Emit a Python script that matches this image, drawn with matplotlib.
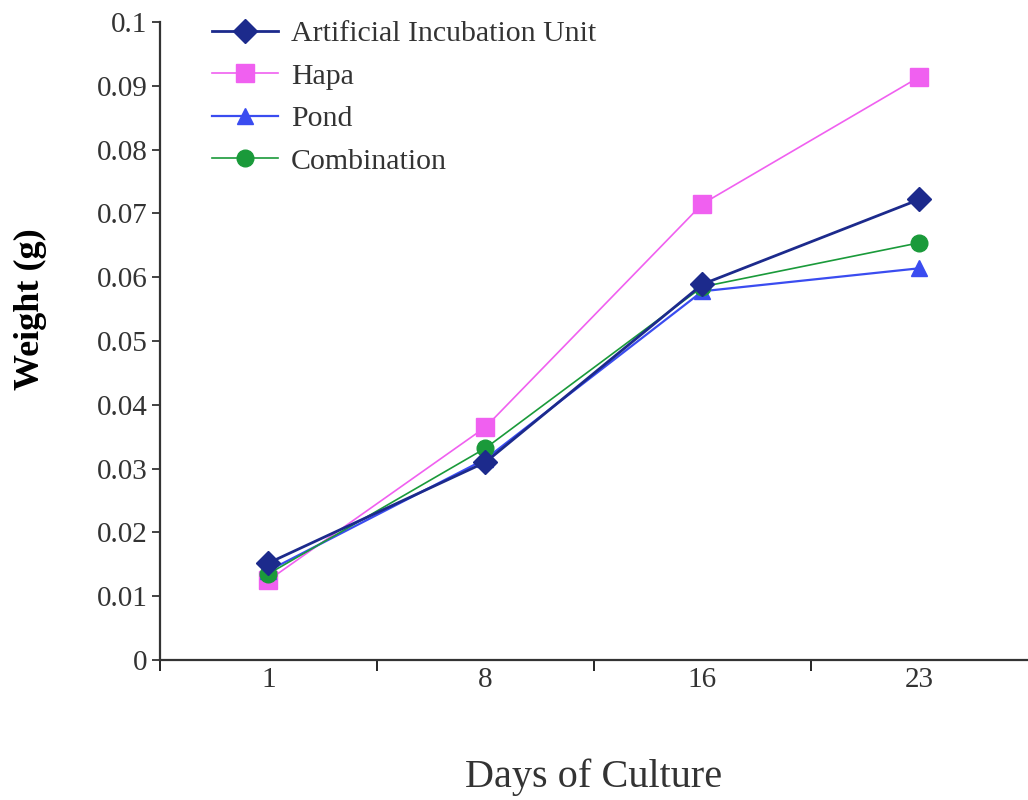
import matplotlib.pyplot as plt

plt.rcParams['font.family'] = ['Liberation Serif', 'DejaVu Serif']

# データ
days = ['1', '8', '16', '23']
aiu = [0.0152, 0.0310, 0.0589, 0.0722]
hapa = [0.0125, 0.0365, 0.0715, 0.0914]
pond = [0.0140, 0.0315, 0.0578, 0.0614]
combination = [0.0135, 0.0332, 0.0585, 0.0654]

x = list(range(1, len(days) + 1))

fig = plt.figure(figsize=(10.28, 8), dpi=100)
ax = fig.add_axes([0.1556, 0.175, 0.8444, 0.7975])

ax.plot(x, aiu, color='#1c2a8c', lw=2.0, marker='D', ms=12, label='Artificial Incubation Unit', zorder=5)
ax.plot(x, hapa, color='#f060f0', lw=1.2, marker='s', ms=13, label='Hapa', zorder=2)
ax.plot(x, pond, color='#3a4cf0', lw=1.6, marker='^', ms=12, label='Pond', zorder=3)
ax.plot(x, combination, color='#1a9a3a', lw=1.2, marker='o', ms=12, label='Combination', zorder=4)

# 軸の設定
ax.set_xlim(0.5, 4.5)
ax.set_ylim(0, 0.1)
ax.set_yticks([i / 100 for i in range(11)])
ax.set_yticklabels(['0'] + ['%g' % (i / 100) for i in range(1, 11)])
ax.set_xticks(x)
ax.set_xticklabels(days)
ax.set_xticks([0.5, 1.5, 2.5, 3.5], minor=True)
ax.tick_params(axis='x', which='major', length=0, labelsize=21, pad=5)
ax.tick_params(axis='x', which='minor', length=8, width=1.2, direction='out')
ax.tick_params(axis='y', length=6, width=1.2, direction='out', labelsize=21, pad=3, colors='#222222')
ax.tick_params(axis='y', labelcolor='#333333')
ax.tick_params(axis='x', labelcolor='#333333')

for s in ['top', 'right']:
    ax.spines[s].set_visible(False)
for s in ['left', 'bottom']:
    ax.spines[s].set_linewidth(1.6)
    ax.spines[s].set_color('#333333')

ax.set_xlabel('Days of Culture', fontsize=29, color='#333333')
ax.xaxis.set_label_coords(0.5, -0.155)
ax.set_ylabel('Weight (g)', fontsize=26, fontweight='bold')
ax.yaxis.set_label_coords(-0.13, 0.55)

ax.legend(loc='upper left', bbox_to_anchor=(0.18, 1.008), bbox_transform=fig.transFigure,
          frameon=False, fontsize=21.5, handlelength=2.2, labelspacing=0.52,
          handletextpad=0.45, labelcolor='#333333')

plt.savefig('out.png', dpi=100)
